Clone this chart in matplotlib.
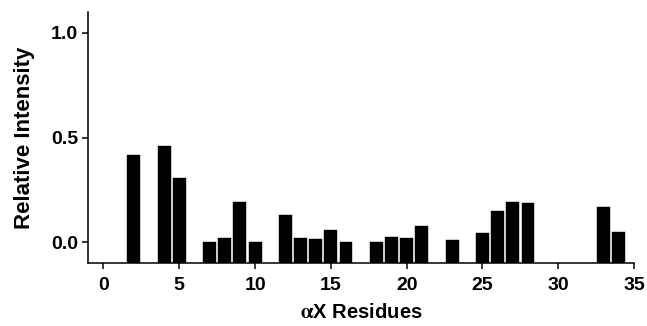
import matplotlib
matplotlib.use("Agg")
import matplotlib.pyplot as plt

residues = [2, 4, 5, 7, 8, 9, 10, 12, 13, 14, 15, 16, 18, 19, 20, 21, 23, 25, 26, 27, 28, 33, 34]
intensity = [0.419, 0.459, 0.305, 0.0, 0.019, 0.192, 0.0, 0.130, 0.021, 0.014, 0.060, 0.0,
             0.0, 0.024, 0.021, 0.076, 0.010, 0.045, 0.148, 0.192, 0.188, 0.169, 0.048]
xticks = [0, 5, 10, 15, 20, 25, 30, 35]
yticks = [0.0, 0.5, 1.0]

plt.rcParams['font.family'] = ['Liberation Sans', 'DejaVu Sans']
plt.rcParams['font.weight'] = 'bold'
plt.rcParams['mathtext.fontset'] = 'stix'

fig = plt.figure(figsize=(6.47, 3.26), dpi=100)
ax = fig.add_axes([0.1365, 0.1923, 0.8435, 0.7717])

base = -0.1
ax.bar(residues, [v - base for v in intensity], bottom=base, width=0.85,
       color='black', edgecolor='black', linewidth=0.3)

ax.set_xlim(-1, 35)
ax.set_ylim(-0.1, 1.1)
ax.set_xticks(xticks)
ax.set_yticks(yticks)
ax.set_yticklabels(['0.0', '0.5', '1.0'])

for s in ['top', 'right']:
    ax.spines[s].set_visible(False)
for s in ['left', 'bottom']:
    ax.spines[s].set_linewidth(1.1)

ax.tick_params(width=1.1, length=4.5, labelsize=14)
ax.tick_params(axis='x', pad=5)
ax.tick_params(axis='y', pad=3)
for lbl in ax.get_xticklabels() + ax.get_yticklabels():
    lbl.set_fontweight('bold')

ax.set_ylabel('Relative Intensity', fontsize=16, fontweight='bold', labelpad=11)
ax.set_xlabel(r'$\mathrm{\alpha}$X Residues', fontsize=14.5, fontweight='bold', labelpad=7)

fig.savefig('out.png', dpi=100)
